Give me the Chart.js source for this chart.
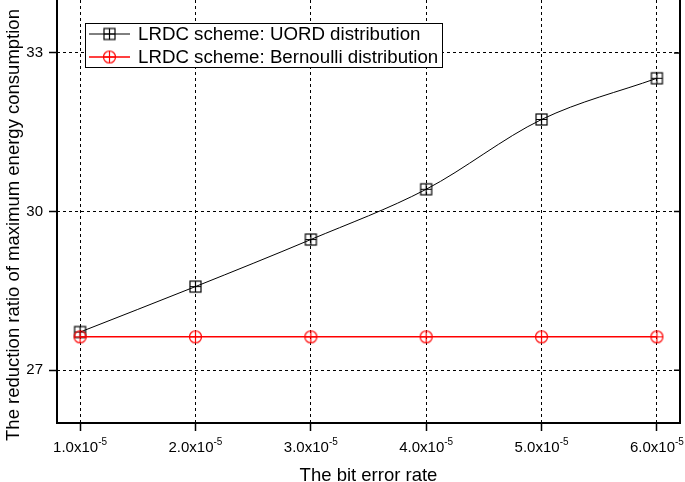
<!DOCTYPE html>
<html>
<head>
<meta charset="utf-8">
<script src="https://cdn.jsdelivr.net/npm/chart.js@4/dist/chart.umd.min.js"></script>
<style>
  html, body { margin: 0; padding: 0; background: #fff; }
  canvas { display: block; }
</style>
</head>
<body>
<canvas id="berChart" width="685" height="482"></canvas>
<script>
// ── Data ────────────────────────────────────────────────────────
const berValues     = [1, 2, 3, 4, 5, 6];
const xTickMantissa = ['1.0', '2.0', '3.0', '4.0', '5.0', '6.0'];
const xTickExponent = '-5';
const yTickValues   = [27, 30, 33];
const uordValues    = [27.72, 28.58, 29.47, 30.42, 31.74, 32.52];
const bernValues    = [27.63, 27.63, 27.63, 27.63, 27.63, 27.63];

const FONT = '"Liberation Sans", Arial, Helvetica, sans-serif';

// ── Markers ─────────────────────────────────────────────────────
function makeMarker(kind, color) {
    const c = document.createElement('canvas');
    c.width = 15; c.height = 15;
    const g = c.getContext('2d');
    g.strokeStyle = color;
    g.lineWidth = 1.2;
    if (kind === 'square') {
        g.strokeRect(2, 2, 11, 11);
    } else {
        g.beginPath();
        g.arc(7.5, 7.5, 6, 0, Math.PI * 2);
        g.stroke();
    }
    g.beginPath();
    g.moveTo(7.5, 2); g.lineTo(7.5, 13);
    g.moveTo(2, 7.5); g.lineTo(13, 7.5);
    g.stroke();
    return c;
}

const sqMarker  = makeMarker('square', '#000');
const cirMarker = makeMarker('circle', '#ff0000');

// ── Extra drawing: frame, tick labels, titles, legend ───────────
const decorPlugin = {
    id: 'decor',
    afterDraw(chart) {
        const ctx = chart.ctx;
        const a = chart.chartArea;
        const xs = chart.scales.x;
        const ys = chart.scales.y;
        ctx.save();

        // solid frame: left, bottom, right (top edge is cut off in the original)
        ctx.strokeStyle = '#000';
        ctx.lineWidth = 2;
        ctx.setLineDash([]);
        ctx.beginPath();
        ctx.moveTo(a.left, a.top); ctx.lineTo(a.left, a.bottom); ctx.lineTo(a.right, a.bottom);
        ctx.lineTo(a.right, a.top);
        ctx.stroke();
        ctx.lineWidth = 1.5;
        ctx.beginPath();
        yTickValues.forEach(v => {
            const y = ys.getPixelForValue(v);
            ctx.moveTo(a.right, y); ctx.lineTo(a.right - 6, y);
        });
        ctx.stroke();

        // x tick labels with superscript exponent
        ctx.fillStyle = '#000';
        ctx.textBaseline = 'alphabetic';
        berValues.forEach((v, i) => {
            const x = xs.getPixelForValue(v);
            ctx.font = '15px ' + FONT;
            const base = xTickMantissa[i] + 'x10';
            const bw = ctx.measureText(base).width;
            ctx.font = '10px ' + FONT;
            const ew = ctx.measureText(xTickExponent).width;
            const left = x - (bw + ew) / 2;
            ctx.font = '15px ' + FONT;
            ctx.textAlign = 'left';
            ctx.fillText(base, left, 452);
            ctx.font = '10px ' + FONT;
            ctx.fillText(xTickExponent, left + bw, 445);
        });

        // axis titles
        ctx.font = '18.5px ' + FONT;
        ctx.textAlign = 'center';
        ctx.fillText('The bit error rate', (a.left + a.right) / 2, 481);
        ctx.save();
        ctx.translate(19, 225);
        ctx.rotate(-Math.PI / 2);
        ctx.fillText('The reduction ratio of maximum energy consumption', 0, 0);
        ctx.restore();

        // legend
        const lx = 85, ly = 23, lw = 357, lh = 44;
        ctx.fillStyle = '#fff';
        ctx.fillRect(lx, ly, lw, lh);
        ctx.strokeStyle = '#000';
        ctx.lineWidth = 1;
        ctx.strokeRect(lx + 0.5, ly + 0.5, lw, lh);
        const rows = [
            { ds: chart.data.datasets[0], marker: sqMarker,  y: 34 },
            { ds: chart.data.datasets[1], marker: cirMarker, y: 57 },
        ];
        rows.forEach(r => {
            ctx.strokeStyle = r.ds.borderColor;
            ctx.lineWidth = r.ds.borderWidth;
            ctx.beginPath();
            ctx.moveTo(89, r.y); ctx.lineTo(130, r.y);
            ctx.stroke();
            ctx.drawImage(r.marker, 109.5 - 7.5, r.y - 7.5);
            ctx.fillStyle = '#000';
            ctx.font = '18.7px ' + FONT;
            ctx.textAlign = 'left';
            ctx.textBaseline = 'middle';
            ctx.fillText(r.ds.label, 138, r.y + 1);
        });

        ctx.restore();
    },
};

const gridOpts = {
    color: '#000',
    lineWidth: 1,
    drawTicks: true,
    tickLength: 8,
    tickColor: '#000',
    tickBorderDash: [],
    tickWidth: 1.5,
};
// border.dash is what v4 uses for the grid line dash; the axis line itself is drawn by the plugin
const borderOpts = { display: false, color: '#000', width: 2, dash: [3, 3] };

// ── Chart ───────────────────────────────────────────────────────
new Chart(document.getElementById('berChart'), {
    type: 'line',
    data: {
        datasets: [
            {
                label: 'LRDC scheme: UORD distribution',
                data: berValues.map((x, i) => ({ x: x, y: uordValues[i] })),
                borderColor: '#000',
                borderWidth: 1,
                cubicInterpolationMode: 'monotone',
                pointStyle: sqMarker,
                pointRadius: 6,
                order: 1,
            },
            {
                label: 'LRDC scheme: Bernoulli distribution',
                data: berValues.map((x, i) => ({ x: x, y: bernValues[i] })),
                borderColor: '#ff0000',
                borderWidth: 1.5,
                tension: 0,
                pointStyle: cirMarker,
                pointRadius: 6,
                order: 0,
            },
        ],
    },
    options: {
        responsive: false,
        animation: false,
        layout: { autoPadding: false, padding: { top: 0, right: 5, left: 0, bottom: 0 } },
        plugins: {
            legend: { display: false },
            tooltip: { enabled: false },
        },
        scales: {
            x: {
                type: 'linear',
                min: 0.8,
                max: 6.2,
                afterBuildTicks: s => { s.ticks = berValues.map(v => ({ value: v })); },
                afterFit: s => { s.height = 59; s.paddingLeft = 0; s.paddingRight = 0; },
                ticks: { display: false },
                grid: gridOpts,
                border: borderOpts,
            },
            y: {
                min: 26,
                max: 34,
                afterBuildTicks: s => { s.ticks = yTickValues.map(v => ({ value: v })); },
                afterFit: s => { s.width = 57; s.paddingTop = 0; s.paddingBottom = 0; },
                ticks: {
                    color: '#000',
                    font: { family: FONT, size: 15 },
                    padding: 6,
                },
                grid: gridOpts,
                border: borderOpts,
            },
        },
    },
    plugins: [decorPlugin],
});
</script>
</body>
</html>
